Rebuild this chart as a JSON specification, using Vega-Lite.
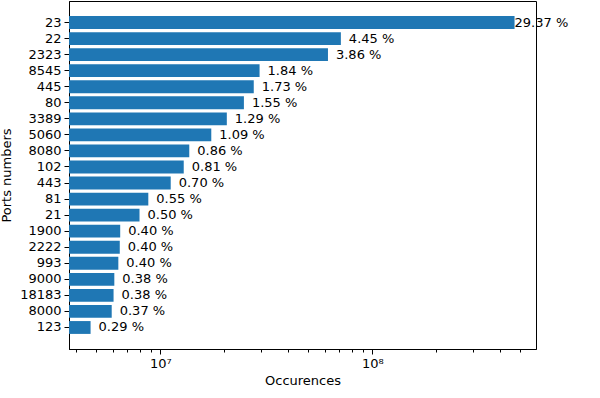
{
  "$schema": "https://vega.github.io/schema/vega-lite/v6.json",
  "width": 467,
  "height": 348,
  "autosize": {"type": "none"},
  "padding": {"left": 69, "top": 1, "right": 64, "bottom": 49},
  "background": "white",
  "config": {
    "font": "DejaVu Sans",
    "view": {"stroke": "black", "strokeWidth": 1},
    "axis": {
      "domainColor": "black",
      "tickColor": "black",
      "labelColor": "black",
      "titleColor": "black",
      "labelFont": "DejaVu Sans",
      "titleFont": "DejaVu Sans",
      "labelFontSize": 13,
      "titleFontSize": 13,
      "titleFontWeight": "normal",
      "grid": false,
      "domainWidth": 1,
      "tickWidth": 1
    }
  },
  "data": {
    "values": [
      {"port": "23", "count": 469000000, "pct": "29.37 %"},
      {"port": "22", "count": 71100000, "pct": "4.45 %"},
      {"port": "2323", "count": 61800000, "pct": "3.86 %"},
      {"port": "8545", "count": 29400000, "pct": "1.84 %"},
      {"port": "445", "count": 27600000, "pct": "1.73 %"},
      {"port": "80", "count": 24800000, "pct": "1.55 %"},
      {"port": "3389", "count": 20600000, "pct": "1.29 %"},
      {"port": "5060", "count": 17400000, "pct": "1.09 %"},
      {"port": "8080", "count": 13700000, "pct": "0.86 %"},
      {"port": "102", "count": 12900000, "pct": "0.81 %"},
      {"port": "443", "count": 11200000, "pct": "0.70 %"},
      {"port": "81", "count": 8780000, "pct": "0.55 %"},
      {"port": "21", "count": 7980000, "pct": "0.50 %"},
      {"port": "1900", "count": 6470000, "pct": "0.40 %"},
      {"port": "2222", "count": 6440000, "pct": "0.40 %"},
      {"port": "993", "count": 6340000, "pct": "0.40 %"},
      {"port": "9000", "count": 6070000, "pct": "0.38 %"},
      {"port": "18183", "count": 6020000, "pct": "0.38 %"},
      {"port": "8000", "count": 5900000, "pct": "0.37 %"},
      {"port": "123", "count": 4690000, "pct": "0.29 %"}
    ]
  },
  "encoding": {
    "y": {
      "field": "port",
      "type": "nominal",
      "sort": null,
      "scale": {"paddingInner": 0.2, "paddingOuter": 0.94},
      "axis": {
        "title": "Ports numbers",
        "tickSize": 5,
        "labelPadding": 3,
        "titlePadding": 6
      }
    },
    "x": {
      "field": "count",
      "type": "quantitative",
      "scale": {"type": "log", "domain": [3710000, 592000000], "nice": false, "zero": false, "clamp": true},
      "axis": {
        "title": "Occurences",
        "values": [4000000, 5000000, 6000000, 7000000, 8000000, 9000000, 10000000, 20000000, 30000000, 40000000, 50000000, 60000000, 70000000, 80000000, 90000000, 100000000, 200000000, 300000000, 400000000, 500000000],
        "labelExpr": "datum.value == 10000000 ? '10⁷' : (datum.value == 100000000 ? '10⁸' : '')",
        "tickSize": {"condition": {"test": "datum.value == 10000000 || datum.value == 100000000", "value": 5}, "value": 3},
        "labelPadding": 3,
        "labelFlush": false,
        "labelOverlap": false,
        "titlePadding": 4
      }
    }
  },
  "layer": [
    {
      "mark": {"type": "bar", "color": "#1f77b4"},
      "encoding": {"x2": {"datum": 1000000}}
    },
    {
      "transform": [{"filter": "datum.port != '23'"}],
      "mark": {"type": "text", "align": "left", "baseline": "middle", "dx": 8, "fontSize": 13, "color": "black"},
      "encoding": {"text": {"field": "pct"}}
    },
    {
      "transform": [{"filter": "datum.port == '23'"}],
      "mark": {"type": "text", "align": "left", "baseline": "middle", "dx": 0, "fontSize": 13, "color": "black"},
      "encoding": {"text": {"field": "pct"}}
    }
  ]
}
